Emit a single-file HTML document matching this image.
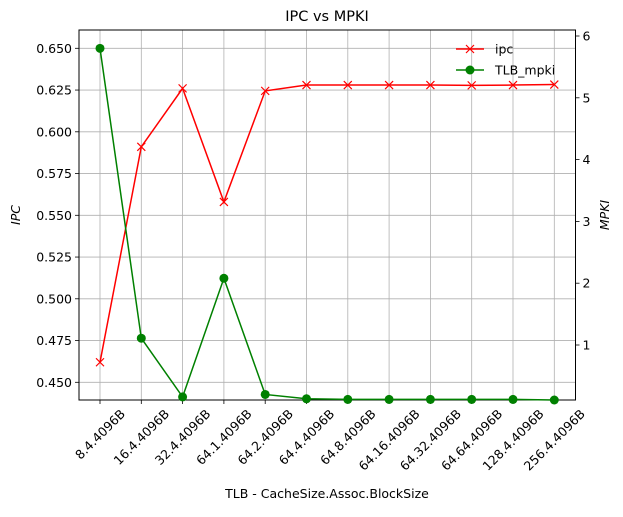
<!DOCTYPE html>
<html><head><meta charset="utf-8"><style>
body{margin:0;background:#fff;}
svg{font-family:"DejaVu Sans","Liberation Sans",sans-serif;}
</style></head><body>
<svg id="chart" width="623" height="512" xmlns="http://www.w3.org/2000/svg">
<g id="grid"></g>
<g id="axes"></g>
<g id="series"></g>
<text x="327" y="21" font-size="14.5" text-anchor="middle">IPC vs MPKI</text>
<text x="327" y="498" font-size="12.5" text-anchor="middle">TLB - CacheSize.Assoc.BlockSize</text>
<text transform="translate(20,215) rotate(-90)" font-size="12.5" font-style="italic" text-anchor="middle">IPC</text>
<text transform="translate(609,215) rotate(-90)" font-size="12.5" font-style="italic" text-anchor="middle">MPKI</text>
<g>
<g>
<line x1="456" y1="49" x2="484" y2="49" stroke="red" stroke-width="1.5"/>
<path d="M466,45 l8,8 M474,45 l-8,8" stroke="red" stroke-width="1.2"/>
<text x="495" y="53.5" font-size="12.5">ipc</text></g>
<g>
<line x1="456" y1="70" x2="484" y2="70" stroke="green" stroke-width="1.5"/>
<circle cx="470" cy="70" r="4.5" fill="green"/>
<text x="495" y="74.5" font-size="12.5">TLB_mpki</text></g>
</g>
</svg>
<script>
const categories=["8.4.4096B","16.4.4096B","32.4.4096B","64.1.4096B","64.2.4096B","64.4.4096B","64.8.4096B","64.16.4096B","64.32.4096B","64.64.4096B","128.4.4096B","256.4.4096B"];
const ipcValues=[0.462,0.591,0.626,0.558,0.6245,0.628,0.628,0.628,0.628,0.6278,0.628,0.6283];
const mpkiValues=[5.80,1.11,0.16,2.08,0.20,0.13,0.12,0.12,0.12,0.12,0.12,0.11];
const leftTicks=[0.450,0.475,0.500,0.525,0.550,0.575,0.600,0.625,0.650];
const rightTicks=[1,2,3,4,5,6];

const L=79,R=575.5,T=30,B=400;
const NS="http://www.w3.org/2000/svg";
const x=i=>100+i*(454.3/11);
const yL=v=>382.3-(v-0.45)*1670;
const yR=v=>345-(v-1)*61.8;
function mk(p,tag,a){const e=document.createElementNS(NS,tag);for(const k in a)e.setAttribute(k,a[k]);p.appendChild(e);return e;}
const grid=document.getElementById('grid'),axes=document.getElementById('axes'),ser=document.getElementById('series');
categories.forEach((c,i)=>{
 const g=mk(grid,'line',{x1:x(i),x2:x(i),y1:T,y2:B,stroke:'#b0b0b0','stroke-width':0.8});
 
 
 mk(axes,'line',{x1:x(i),x2:x(i),y1:B,y2:B+4,stroke:'#000','stroke-width':0.8});
 const t=mk(axes,'text',{'font-size':12.5,'text-anchor':'middle'});
 t.textContent=c;
 const w=t.getComputedTextLength();
 const hb=(w+10)*0.7071;
 const cy=B+8+hb/2;
 t.setAttribute('transform',`translate(${x(i)},${cy}) rotate(-45)`);
 t.setAttribute('y',4.5);
 
 
});
leftTicks.forEach(v=>{
 const g=mk(grid,'line',{x1:L,x2:R,y1:yL(v),y2:yL(v),stroke:'#b0b0b0','stroke-width':0.8});
 
 
 mk(axes,'line',{x1:L-4,x2:L,y1:yL(v),y2:yL(v),stroke:'#000','stroke-width':0.8});
 const t=mk(axes,'text',{x:L-7,y:yL(v)+4.5,'font-size':12.5,'text-anchor':'end'});
 t.textContent=v.toFixed(3);
 
 
});
rightTicks.forEach(v=>{
 mk(axes,'line',{x1:R,x2:R+4,y1:yR(v),y2:yR(v),stroke:'#000','stroke-width':0.8});
 const t=mk(axes,'text',{x:R+7,y:yR(v)+4.5,'font-size':12.5});
 t.textContent=v;
 
 
});
mk(axes,'rect',{x:L,y:T,width:R-L,height:B-T,fill:'none',stroke:'#000','stroke-width':1});
const pl=mk(ser,'polyline',{points:ipcValues.map((v,i)=>x(i)+','+yL(v)).join(' '),fill:'none',stroke:'red','stroke-width':1.5});


ipcValues.forEach((v,i)=>{
 const m=mk(ser,'path',{d:`M${x(i)-4},${yL(v)-4} l8,8 M${x(i)+4},${yL(v)-4} l-8,8`,stroke:'red','stroke-width':1.2});
 
 
});
const pg=mk(ser,'polyline',{points:mpkiValues.map((v,i)=>x(i)+','+yR(v)).join(' '),fill:'none',stroke:'green','stroke-width':1.5});


mpkiValues.forEach((v,i)=>{
 const m=mk(ser,'circle',{cx:x(i),cy:yR(v),r:4.5,fill:'green'});
 
 
});
</script>
</body></html>
